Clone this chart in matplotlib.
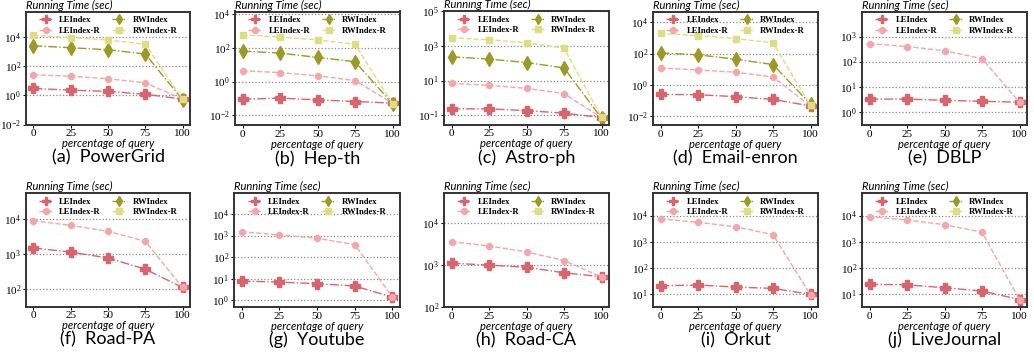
import numpy as np
import matplotlib
matplotlib.use('Agg')
import matplotlib.pyplot as plt

# -----------------------------------------------------------------------
# Datos
# -----------------------------------------------------------------------
pct = [0, 25, 50, 75, 100]

datasets = ['PowerGrid', 'Hep-th', 'Astro-ph', 'Email-enron', 'DBLP',
            'Road-PA', 'Youtube', 'Road-CA', 'Orkut', 'LiveJournal']
letters = ['a', 'b', 'c', 'd', 'e', 'f', 'g', 'h', 'i', 'j']

le_index = [
    [3.0, 2.3, 1.9, 1.2, 0.55],
    [0.09, 0.105, 0.083, 0.066, 0.053],
    [0.24, 0.24, 0.19, 0.135, 0.076],
    [0.25, 0.24, 0.18, 0.12, 0.046],
    [3.2, 3.2, 2.85, 2.6, 2.4],
    [1480, 1130, 770, 370, 112],
    [7.8, 7.0, 5.9, 4.6, 1.4],
    [1100, 990, 880, 650, 525],
    [20, 21.7, 18, 16, 9.5],
    [23, 22, 17, 12.7, 6],
]
le_index_r = [
    [26, 21, 14, 7.4, 0.55],
    [4.4, 3.4, 2.2, 1.15, 0.053],
    [7.0, 5.4, 3.6, 1.8, 0.075],
    [12, 9, 6.5, 3.2, 0.045],
    [520, 400, 270, 132, 2.4],
    [8800, 6500, 4400, 2300, 112],
    [1500, 1070, 750, 380, 1.4],
    [3570, 2830, 2040, 1270, 520],
    [7500, 5600, 3700, 1880, 9],
    [9200, 6800, 4500, 2300, 6],
]
rw_index = [
    [2600, 1900, 1380, 710, 0.5],
    [64, 49, 27, 15, 0.05],
    [235, 172, 110, 54, 0.07],
    [110, 83, 44, 20, 0.06],
    [], [], [], [], [], [],
]
rw_index_r = [
    [13800, 9300, 6500, 3300, 0.55],
    [600, 430, 295, 160, 0.05],
    [2900, 2200, 1500, 740, 0.08],
    [1900, 1400, 900, 480, 0.05],
    [], [], [], [], [], [],
]

ylims = [(1e-2, 10**5.77), (10**-2.6, 10**4.15), (10**-1.52, 1e5),
         (10**-2.55, 10**4.68), (10**-0.53, 1e4),
         (10**1.51, 10**4.73), (10**-0.31, 10**4.97), (1e2, 10**4.71),
         (10**0.49, 10**4.87), (10**0.49, 10**4.87)]
yticks = [[1e-2, 1e0, 1e2, 1e4], [1e-2, 1e0, 1e2, 1e4], [1e-1, 1e1, 1e3, 1e5],
          [1e-2, 1e0, 1e2, 1e4], [1e0, 1e1, 1e2, 1e3],
          [1e2, 1e3, 1e4], [1e0, 1e1, 1e2, 1e3, 1e4], [1e2, 1e3, 1e4],
          [1e1, 1e2, 1e3, 1e4], [1e1, 1e2, 1e3, 1e4]]

# Posiciones de los ejes en píxeles (izquierda, arriba, derecha, abajo)
W, H = 1034, 356
boxes = [(26, 11.5, 190, 124.5), (235, 11.5, 400, 125.5), (444, 11, 609, 124.5),
         (653, 11.5, 818, 125), (862, 11.5, 1027, 125),
         (26, 193, 190, 306.5), (234, 193, 400, 307), (444, 193, 609, 307),
         (653, 193, 818, 307), (862, 193, 1027, 307)]

styles = [
    dict(label='LEIndex', color='#d9646c', marker='P', ls='-.', ms=6.5),
    dict(label='LEIndex-R', color='#f4a6a8', marker='8', ls='--', ms=5),
    dict(label='RWIndex', color='#9b9a22', marker='d', ls='-.', ms=7),
    dict(label='RWIndex-R', color='#dedd82', marker='s', ls='--', ms=5),
]

serif = ['Liberation Serif', 'DejaVu Serif']
sans = ['Lato', 'DejaVu Sans']

fig = plt.figure(figsize=(W / 100, H / 100), dpi=100)

for k in range(10):
    l, t, r, b = boxes[k]
    ax = fig.add_axes([l / W, 1 - b / H, (r - l) / W, (b - t) / H])
    series = [le_index[k], le_index_r[k], rw_index[k], rw_index_r[k]]
    for vals, st in zip(series, styles):
        xs = pct if len(vals) else []
        ax.plot(xs, vals, color=st['color'], marker=st['marker'], ls=st['ls'],
                ms=st['ms'], lw=1.0, label=st['label'])
    ax.set_yscale('log')
    ax.set_ylim(*ylims[k])
    ax.set_yticks(yticks[k])
    ax.yaxis.set_minor_locator(matplotlib.ticker.NullLocator())
    ax.set_xlim(-5, 105)
    ax.set_xticks(pct)
    ax.grid(axis='y', color='#888888', ls=':', lw=0.9)
    ax.tick_params(labelsize=8, length=2, width=0.8, pad=1.5)
    for lab in ax.get_xticklabels() + ax.get_yticklabels():
        lab.set_family(serif)
    for sp in ax.spines.values():
        sp.set_linewidth(1.4)
        sp.set_color('#333333')
    ax.set_xlabel('percentage of query', fontsize=8, style='italic',
                  family=sans, labelpad=0)
    ax.text(0.0, 1.005, 'Running Time (sec)', transform=ax.transAxes,
            fontsize=8, style='italic', family=sans, va='bottom', ha='left')
    ax.legend(loc='upper center', ncol=2, frameon=False,
              prop=dict(family=serif, weight='bold', size=6.2),
              handlelength=1.7, columnspacing=1.3, borderaxespad=0.15,
              labelspacing=0.3, markerscale=0.8, handletextpad=0.7)
    cx = (l + r) / 2 / W
    cy = 1 - (b + 33) / H
    fig.text(cx, cy, f'({letters[k]})  {datasets[k]}', fontsize=13,
             family=sans, ha='center', va='center')

fig.savefig('out.png', dpi=100)
